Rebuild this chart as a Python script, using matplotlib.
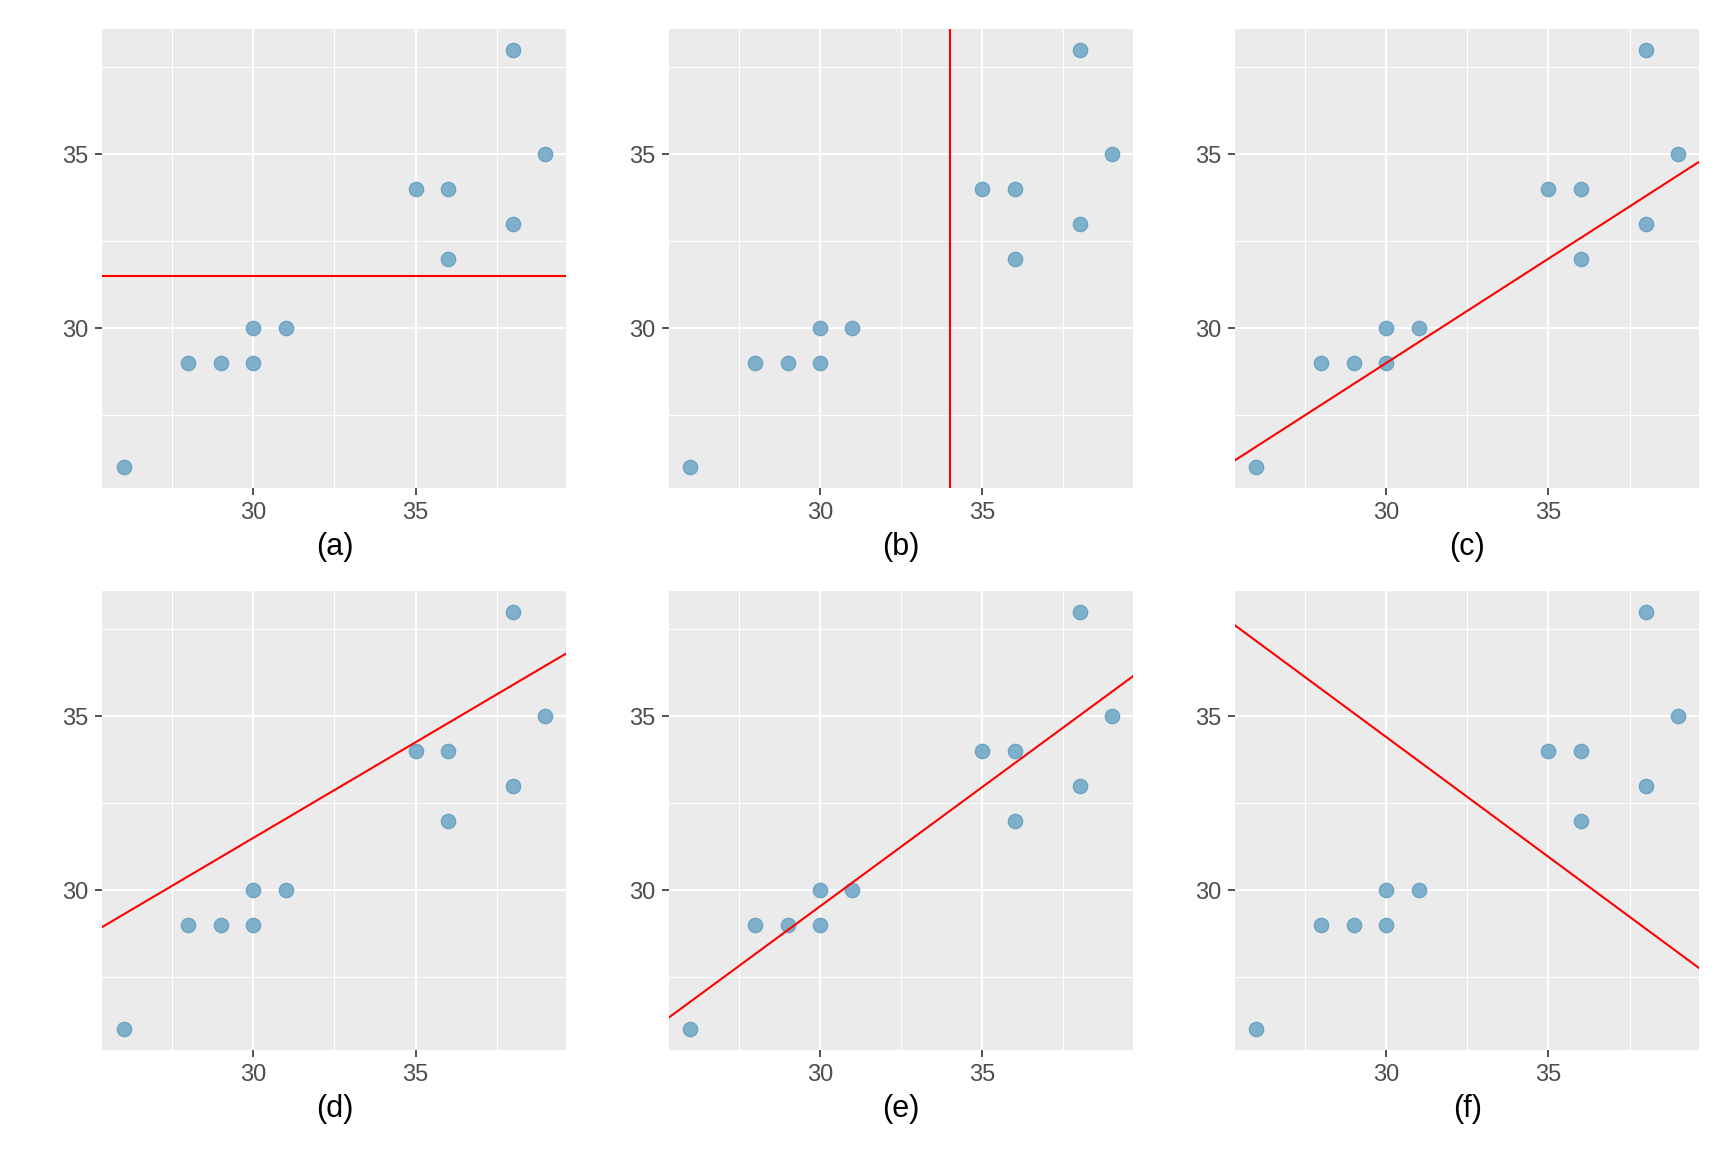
import numpy as np
import matplotlib.pyplot as plt
from matplotlib.ticker import FixedLocator

plt.rcParams['font.family'] = ['Liberation Sans', 'DejaVu Sans']

# data points (same in every panel)
x_vals = [26, 28, 29, 30, 30, 31, 35, 36, 36, 38, 38, 39]
y_vals = [26, 29, 29, 29, 30, 30, 34, 34, 32, 33, 38, 35]

# red lines: kind, intercept/position, slope
panel_labels = ['(a)', '(b)', '(c)', '(d)', '(e)', '(f)']
line_kind = ['h', 'v', 'ab', 'ab', 'ab', 'ab']
line_intercept = [31.5, 34.0, 11.0, 15.0, 8.95, 55.07]
line_slope = [0.0, 0.0, 0.6, 0.55, 0.686, -0.689]

major_ticks = [30, 35]
minor_ticks = [27.5, 32.5, 37.5]

fig = plt.figure(figsize=(17.28, 11.52), dpi=100)

lefts = [0.0593, 0.3872, 0.7149]
bottoms = [0.5762, 0.0885]
w, h = 0.2685, 0.3985

for i in range(6):
    r, c = divmod(i, 3)
    ax = fig.add_axes([lefts[c], bottoms[r], w, h])
    ax.set_facecolor('#EBEBEB')
    for s in ax.spines.values():
        s.set_visible(False)

    ax.xaxis.set_major_locator(FixedLocator(major_ticks))
    ax.yaxis.set_major_locator(FixedLocator(major_ticks))
    ax.xaxis.set_minor_locator(FixedLocator(minor_ticks))
    ax.yaxis.set_minor_locator(FixedLocator(minor_ticks))
    ax.grid(which='major', color='white', linewidth=1.5)
    ax.grid(which='minor', color='white', linewidth=0.75)
    ax.set_axisbelow(True)
    ax.tick_params(which='major', length=5, width=1.2, color='#333333',
                   labelsize=17, labelcolor='#4D4D4D', pad=5)
    ax.tick_params(which='minor', length=0)

    ax.scatter(x_vals, y_vals, s=105, color='#7FB0CB', edgecolors='#6CA3C3',
               linewidths=1, zorder=3)

    if line_kind[i] == 'h':
        ax.axhline(line_intercept[i], color='red', lw=1.5, zorder=4)
    elif line_kind[i] == 'v':
        ax.axvline(line_intercept[i], color='red', lw=1.5, zorder=4)
    else:
        ax.axline((0, line_intercept[i]), slope=line_slope[i], color='red', lw=1.5, zorder=4)

    ax.set_xlim(25.35, 39.65)
    ax.set_ylim(25.4, 38.6)
    ax.set_xlabel(panel_labels[i], fontsize=22, color='black', labelpad=6)

fig.savefig('out.png', dpi=100, facecolor='white')
